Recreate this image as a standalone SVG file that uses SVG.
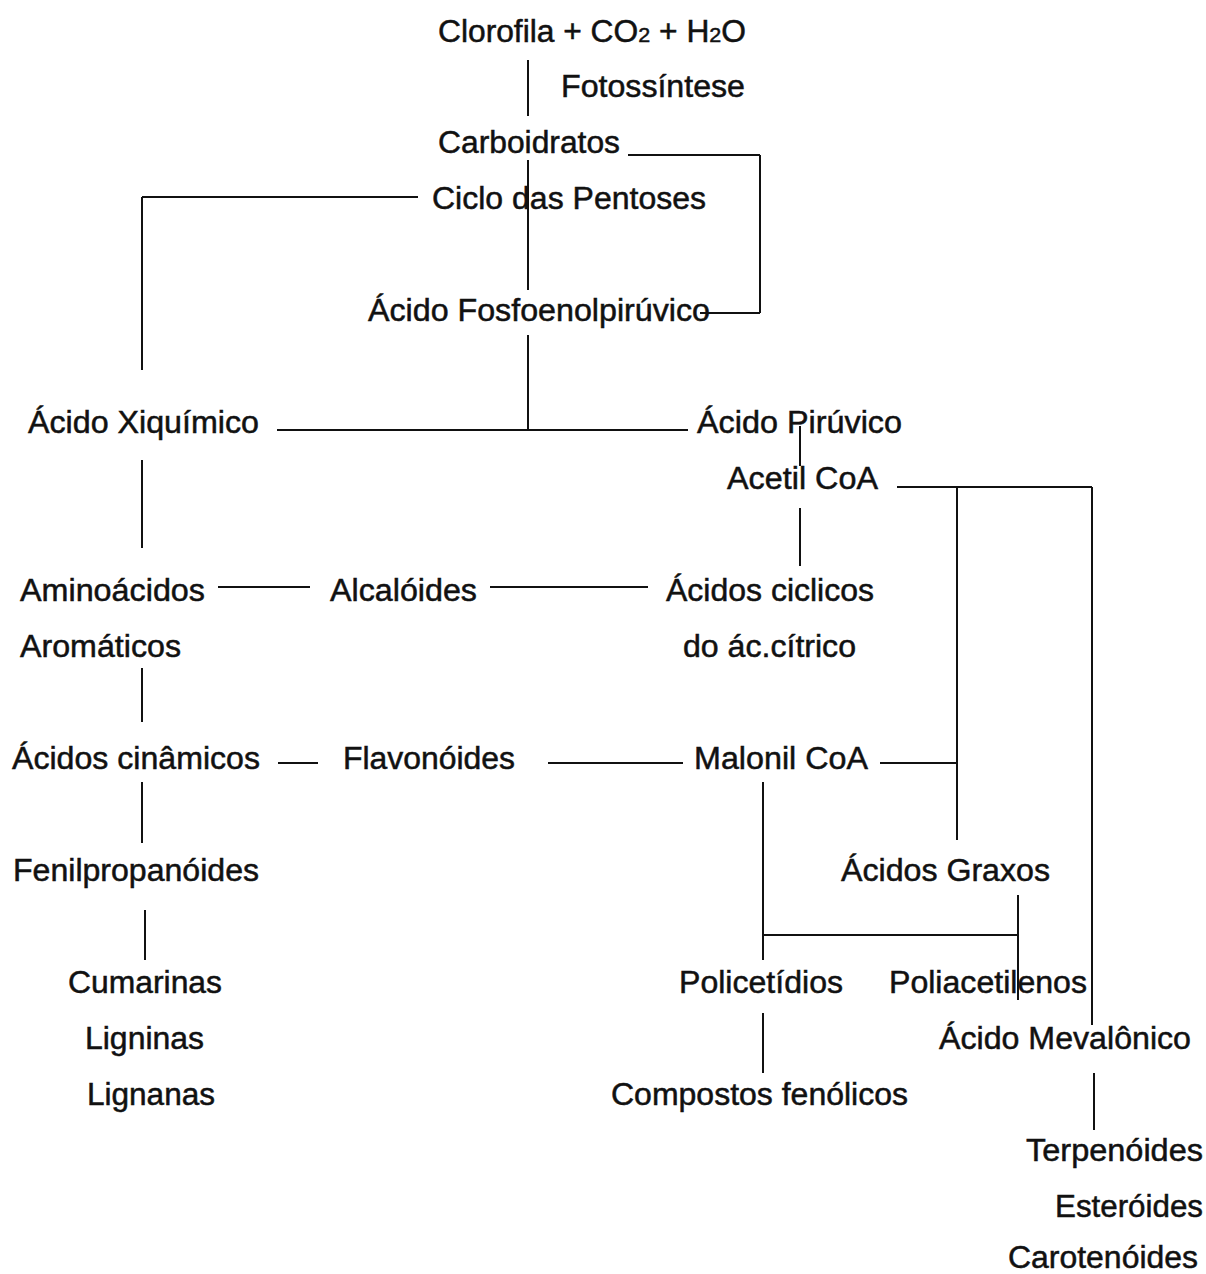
<svg xmlns="http://www.w3.org/2000/svg" width="1206" height="1274" viewBox="0 0 1206 1274">
<style>
text{font-family:"Liberation Sans",Arial,sans-serif;font-size:31px;fill:#111;stroke:#111;stroke-width:0.5}
.sub{font-size:21px}
#connectors line{stroke:#111;stroke-width:2;fill:none}
</style>
<rect width="1206" height="1274" fill="#fff"/>
<g id="connectors">
<line x1="528" y1="60" x2="528" y2="116"/>
<line x1="528" y1="160" x2="528" y2="290"/>
<line x1="628" y1="155" x2="760" y2="155"/>
<line x1="760" y1="155" x2="760" y2="313"/>
<line x1="700" y1="313" x2="760" y2="313"/>
<line x1="142" y1="197" x2="418" y2="197"/>
<line x1="142" y1="197" x2="142" y2="370"/>
<line x1="528" y1="335" x2="528" y2="430"/>
<line x1="277" y1="430" x2="688" y2="430"/>
<line x1="800" y1="426" x2="800" y2="466"/>
<line x1="800" y1="508" x2="800" y2="566"/>
<line x1="897" y1="487" x2="1092" y2="487"/>
<line x1="957" y1="487" x2="957" y2="840"/>
<line x1="1092" y1="487" x2="1092" y2="1025"/>
<line x1="142" y1="460" x2="142" y2="548"/>
<line x1="218" y1="587" x2="310" y2="587"/>
<line x1="490" y1="587" x2="648" y2="587"/>
<line x1="142" y1="668" x2="142" y2="722"/>
<line x1="278" y1="763" x2="318" y2="763"/>
<line x1="548" y1="763" x2="683" y2="763"/>
<line x1="880" y1="763" x2="957" y2="763"/>
<line x1="142" y1="782" x2="142" y2="843"/>
<line x1="145" y1="910" x2="145" y2="960"/>
<line x1="763" y1="782" x2="763" y2="960"/>
<line x1="763" y1="935" x2="1018" y2="935"/>
<line x1="1018" y1="895" x2="1018" y2="1000"/>
<line x1="763" y1="1013" x2="763" y2="1073"/>
<line x1="1094" y1="1073" x2="1094" y2="1130"/>
</g>
<g id="n-clorofila"><text x="438" y="42" textLength="308" lengthAdjust="spacingAndGlyphs">Clorofila + CO<tspan class="sub">2</tspan> + H<tspan class="sub">2</tspan>O</text></g>
<g id="n-fotossintese"><text x="561" y="97" textLength="184" lengthAdjust="spacingAndGlyphs">Fotossíntese</text></g>
<g id="n-carboidratos"><text x="438" y="153" textLength="182" lengthAdjust="spacingAndGlyphs">Carboidratos</text></g>
<g id="n-ciclo"><text x="432" y="209" textLength="274" lengthAdjust="spacingAndGlyphs">Ciclo das Pentoses</text></g>
<g id="n-fosfoenol"><text x="368" y="321" textLength="342" lengthAdjust="spacingAndGlyphs">Ácido Fosfoenolpirúvico</text></g>
<g id="n-xiquimico"><text x="28" y="433" textLength="231" lengthAdjust="spacingAndGlyphs">Ácido Xiquímico</text></g>
<g id="n-piruvico"><text x="697" y="433" textLength="205" lengthAdjust="spacingAndGlyphs">Ácido Pirúvico</text></g>
<g id="n-acetil"><text x="727" y="489" textLength="151" lengthAdjust="spacingAndGlyphs">Acetil CoA</text></g>
<g id="n-aminoacidos"><text x="20" y="601" textLength="185" lengthAdjust="spacingAndGlyphs">Aminoácidos</text><text x="20" y="657" textLength="161" lengthAdjust="spacingAndGlyphs">Aromáticos</text></g>
<g id="n-alcaloides"><text x="330" y="601" textLength="147" lengthAdjust="spacingAndGlyphs">Alcalóides</text></g>
<g id="n-ciclicos"><text x="666" y="601" textLength="208" lengthAdjust="spacingAndGlyphs">Ácidos ciclicos</text><text x="683" y="657" textLength="173" lengthAdjust="spacingAndGlyphs">do ác.cítrico</text></g>
<g id="n-cinamicos"><text x="12" y="769" textLength="248" lengthAdjust="spacingAndGlyphs">Ácidos cinâmicos</text></g>
<g id="n-flavonoides"><text x="343" y="769" textLength="172" lengthAdjust="spacingAndGlyphs">Flavonóides</text></g>
<g id="n-malonil"><text x="694" y="769" textLength="174" lengthAdjust="spacingAndGlyphs">Malonil CoA</text></g>
<g id="n-fenilpropanoides"><text x="13" y="881" textLength="246" lengthAdjust="spacingAndGlyphs">Fenilpropanóides</text></g>
<g id="n-graxos"><text x="841" y="881" textLength="209" lengthAdjust="spacingAndGlyphs">Ácidos Graxos</text></g>
<g id="n-cumarinas"><text x="68" y="993" textLength="154" lengthAdjust="spacingAndGlyphs">Cumarinas</text><text x="85" y="1049" textLength="119" lengthAdjust="spacingAndGlyphs">Ligninas</text><text x="87" y="1105" textLength="128" lengthAdjust="spacingAndGlyphs">Lignanas</text></g>
<g id="n-policetidios"><text x="679" y="993" textLength="164" lengthAdjust="spacingAndGlyphs">Policetídios</text></g>
<g id="n-poliacetilenos"><text x="889" y="993" textLength="198" lengthAdjust="spacingAndGlyphs">Poliacetilenos</text></g>
<g id="n-mevalonico"><text x="939" y="1049" textLength="252" lengthAdjust="spacingAndGlyphs">Ácido Mevalônico</text></g>
<g id="n-fenolicos"><text x="611" y="1105" textLength="297" lengthAdjust="spacingAndGlyphs">Compostos fenólicos</text></g>
<g id="n-terpenoides"><text x="1026" y="1161" textLength="177" lengthAdjust="spacingAndGlyphs">Terpenóides</text><text x="1055" y="1217" textLength="148" lengthAdjust="spacingAndGlyphs">Esteróides</text><text x="1008" y="1268" textLength="190" lengthAdjust="spacingAndGlyphs">Carotenóides</text></g>
</svg>
